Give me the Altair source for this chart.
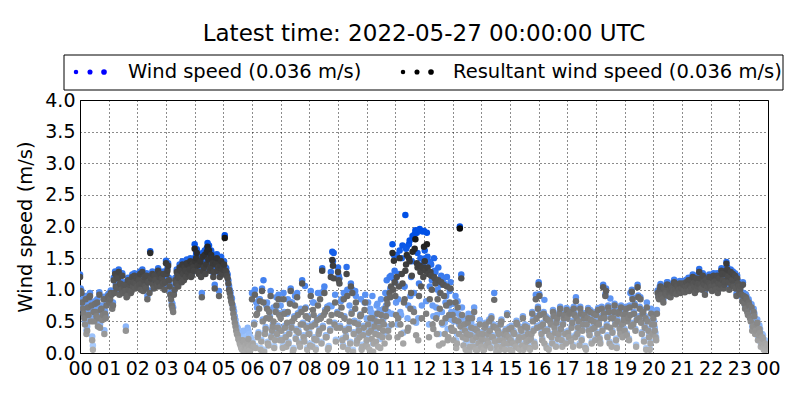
import altair as alt
import pandas as pd

# ---------------- data ----------------
# Two interleaved sample sets per hour (A at :00,:03,..., B at :01.5,:04.5,...), 20 values each.
hours = list(range(24))

resultant_a = [
    [1.20, 0.95, 0.70, 0.55, 0.85, 0.35, 0.60, 0.90, 0.75, 0.05, 0.50, 0.65, 0.80, 0.55, 0.40, 0.70, 0.60, 0.30, 0.55, 0.85],
    [0.90, 0.85, 0.92, 0.75, 0.95, 1.05, 1.20, 1.28, 1.10, 1.00, 0.95, 1.08, 0.35, 0.90, 1.00, 1.12, 0.98, 1.05, 1.22, 1.10],
    [1.05, 1.15, 1.25, 1.10, 0.98, 1.20, 1.02, 0.85, 1.12, 1.58, 1.18, 1.08, 1.22, 1.15, 1.05, 1.12, 1.25, 1.18, 1.10, 1.00],
    [1.42, 1.30, 1.15, 0.92, 0.75, 0.65, 1.00, 1.10, 1.22, 1.18, 1.30, 1.12, 1.25, 1.35, 1.20, 1.40, 1.28, 1.45, 1.22, 1.35],
    [1.65, 1.50, 1.38, 1.25, 1.45, 0.88, 1.30, 1.55, 1.40, 1.68, 1.62, 1.35, 1.50, 1.20, 1.02, 1.42, 1.30, 0.90, 1.38, 1.25],
    [1.35, 1.82, 1.28, 1.18, 1.00, 0.88, 0.78, 0.62, 0.48, 0.35, 0.28, 0.20, 0.12, 0.05, 0.18, 0.08, 0.02, 0.15, 0.10, 0.05],
    [0.85, 0.10, 0.92, 0.60, 0.25, 0.70, 0.05, 0.98, 0.80, 0.30, 0.55, 0.15, 0.65, 0.90, 0.35, 0.50, 0.20, 0.75, 0.40, 0.60],
    [0.55, 0.20, 0.85, 0.40, 0.10, 0.65, 0.30, 0.98, 0.50, 0.05, 0.75, 0.35, 0.60, 0.15, 0.45, 1.10, 0.25, 0.70, 0.40, 0.55],
    [0.30, 0.90, 0.10, 0.60, 0.45, 0.20, 0.75, 0.35, 0.55, 1.30, 0.60, 0.65, 0.25, 0.05, 0.50, 1.20, 1.47, 1.18, 0.80, 0.40],
    [1.28, 1.10, 0.60, 0.20, 0.85, 0.35, 1.25, 0.05, 0.50, 1.05, 0.95, 0.30, 0.70, 0.15, 0.45, 0.25, 0.60, 0.10, 0.40, 0.80],
    [0.20, 0.45, 0.05, 0.35, 0.55, 0.15, 0.30, 0.50, 0.10, 0.40, 0.60, 0.25, 0.45, 0.70, 0.85, 0.35, 0.95, 1.05, 1.58, 1.46],
    [0.90, 1.20, 0.55, 1.50, 0.30, 1.10, 0.80, 1.30, 1.55, 0.40, 1.45, 0.95, 1.60, 0.65, 1.80, 1.42, 0.20, 1.38, 1.05, 1.35],
    [1.68, 1.30, 1.72, 1.25, 0.85, 1.22, 0.45, 1.20, 1.10, 0.30, 1.15, 0.70, 1.12, 0.15, 0.90, 0.55, 1.05, 0.25, 0.80, 0.40],
    [0.60, 0.35, 0.80, 0.15, 0.50, 1.97, 1.18, 0.25, 0.45, 0.05, 0.30, 0.55, 0.10, 0.40, 0.20, 0.65, 0.05, 0.35, 0.15, 0.45],
    [0.10, 0.30, 0.05, 0.45, 0.20, 0.15, 0.35, 0.55, 0.25, 0.84, 0.40, 0.10, 0.30, 0.05, 0.50, 0.20, 0.15, 0.35, 0.60, 0.25],
    [0.05, 0.40, 0.15, 0.30, 0.10, 0.45, 0.20, 0.05, 0.35, 0.55, 0.25, 0.10, 0.40, 0.20, 0.05, 0.30, 0.50, 0.15, 0.85, 0.40],
    [1.08, 0.60, 0.30, 0.45, 0.15, 0.55, 0.35, 0.05, 0.50, 0.25, 0.65, 0.40, 0.10, 0.55, 0.30, 0.70, 0.20, 0.45, 0.60, 0.15],
    [0.55, 0.25, 0.65, 0.40, 0.10, 0.60, 0.82, 0.30, 0.50, 0.70, 0.20, 0.45, 0.60, 0.05, 0.55, 0.35, 0.65, 0.15, 0.50, 0.40],
    [0.60, 0.30, 0.45, 0.15, 0.70, 1.04, 0.55, 0.98, 0.25, 0.65, 0.40, 0.10, 0.55, 0.75, 0.20, 0.50, 0.65, 0.30, 0.45, 0.60],
    [0.35, 0.70, 0.50, 0.20, 0.60, 0.97, 0.45, 0.75, 0.10, 1.04, 0.55, 0.85, 0.30, 0.65, 0.40, 0.05, 0.50, 0.25, 0.15, 0.45],
    [0.55, 0.35, 0.20, 0.95, 0.85, 1.05, 0.90, 0.80, 1.00, 0.92, 1.08, 0.95, 0.88, 1.02, 0.98, 1.10, 0.93, 1.05, 1.00, 0.95],
    [1.02, 1.08, 0.96, 1.12, 1.05, 0.98, 1.15, 1.02, 1.10, 0.95, 1.18, 1.05, 1.28, 1.08, 1.00, 1.12, 0.92, 1.15, 1.05, 1.20],
    [1.10, 0.98, 1.22, 1.05, 1.15, 0.95, 1.18, 1.08, 1.25, 1.02, 1.12, 1.41, 1.20, 1.00, 1.28, 1.15, 1.05, 1.22, 0.90, 1.10],
    [0.95, 1.05, 0.82, 0.90, 0.70, 0.85, 0.60, 0.75, 0.50, 0.35, 0.65, 0.30, 0.45, 0.20, 0.38, 0.10, 0.25, 0.05, 0.15, 0.08],
]

wind_a = [
    [1.24, 0.99, 0.76, 0.60, 0.90, 0.42, 0.66, 0.95, 0.80, 0.12, 0.56, 0.70, 0.85, 0.60, 0.46, 0.75, 0.66, 0.36, 0.60, 0.90],
    [0.94, 0.90, 0.96, 0.80, 0.99, 1.09, 1.24, 1.32, 1.14, 1.04, 1.00, 1.12, 0.42, 0.95, 1.04, 1.16, 1.02, 1.09, 1.26, 1.14],
    [1.09, 1.19, 1.29, 1.14, 1.02, 1.24, 1.06, 0.90, 1.16, 1.61, 1.22, 1.12, 1.26, 1.19, 1.09, 1.16, 1.29, 1.22, 1.14, 1.04],
    [1.46, 1.34, 1.19, 0.96, 0.80, 0.72, 1.05, 1.14, 1.27, 1.22, 1.35, 1.16, 1.30, 1.40, 1.25, 1.46, 1.33, 1.50, 1.27, 1.40],
    [1.72, 1.58, 1.45, 1.32, 1.52, 0.95, 1.36, 1.62, 1.46, 1.74, 1.70, 1.42, 1.57, 1.27, 1.08, 1.50, 1.38, 0.98, 1.45, 1.32],
    [1.42, 1.86, 1.34, 1.24, 1.06, 0.95, 0.86, 0.72, 0.58, 0.45, 0.40, 0.32, 0.25, 0.20, 0.35, 0.25, 0.15, 0.40, 0.30, 0.25],
    [0.95, 0.13, 1.00, 0.80, 0.28, 0.85, 0.08, 1.02, 1.15, 0.33, 0.75, 0.18, 0.68, 0.98, 0.38, 0.72, 0.23, 0.88, 0.43, 0.63],
    [0.75, 0.23, 0.95, 0.43, 0.13, 0.85, 0.33, 1.02, 0.80, 0.08, 0.90, 0.38, 0.63, 0.18, 0.70, 1.15, 0.28, 1.06, 0.43, 0.58],
    [0.33, 0.98, 0.13, 0.80, 0.48, 0.23, 0.95, 0.38, 0.58, 1.34, 0.98, 0.68, 0.28, 0.08, 0.75, 1.28, 1.60, 1.58, 0.92, 0.43],
    [1.35, 1.18, 0.82, 0.23, 0.95, 0.38, 1.36, 0.08, 0.75, 1.10, 1.00, 0.33, 0.98, 0.18, 0.48, 0.28, 0.85, 0.13, 0.43, 0.92],
    [0.55, 0.80, 0.35, 0.65, 0.90, 0.45, 0.62, 0.75, 0.40, 0.68, 0.85, 0.60, 0.70, 0.95, 1.15, 0.65, 1.20, 1.22, 1.72, 1.55],
    [1.12, 1.55, 0.85, 1.62, 0.60, 1.70, 1.05, 2.18, 1.68, 0.75, 1.78, 1.20, 1.85, 0.95, 1.94, 1.90, 0.55, 1.96, 1.35, 1.92],
    [1.93, 1.50, 1.90, 1.45, 1.05, 1.40, 0.75, 1.50, 1.28, 0.60, 1.35, 0.95, 1.22, 0.45, 1.10, 0.80, 1.20, 0.55, 0.98, 0.65],
    [0.78, 0.50, 0.90, 0.30, 0.62, 2.00, 1.24, 0.36, 0.55, 0.15, 0.40, 0.62, 0.20, 0.48, 0.28, 0.72, 0.12, 0.42, 0.22, 0.52],
    [0.13, 0.33, 0.08, 0.48, 0.23, 0.18, 0.38, 0.58, 0.28, 0.95, 0.43, 0.13, 0.33, 0.08, 0.53, 0.23, 0.18, 0.38, 0.63, 0.28],
    [0.08, 0.43, 0.18, 0.33, 0.13, 0.48, 0.23, 0.08, 0.38, 0.58, 0.28, 0.13, 0.43, 0.23, 0.08, 0.33, 0.53, 0.18, 0.92, 0.43],
    [1.12, 0.63, 0.33, 0.48, 0.84, 0.58, 0.38, 0.08, 0.53, 0.28, 0.68, 0.43, 0.13, 0.58, 0.33, 0.73, 0.23, 0.48, 0.63, 0.18],
    [0.58, 0.28, 0.68, 0.43, 0.13, 0.63, 0.88, 0.33, 0.53, 0.73, 0.23, 0.48, 0.63, 0.08, 0.58, 0.38, 0.68, 0.18, 0.53, 0.43],
    [0.63, 0.33, 0.48, 0.18, 0.73, 1.08, 0.58, 1.02, 0.28, 0.68, 0.86, 0.13, 0.58, 0.78, 0.23, 0.53, 0.68, 0.33, 0.48, 0.63],
    [0.38, 0.73, 0.53, 0.23, 0.95, 1.00, 0.48, 0.78, 0.13, 1.08, 0.58, 0.88, 0.33, 0.68, 0.43, 0.08, 0.53, 0.28, 0.18, 0.48],
    [0.62, 0.40, 0.25, 0.99, 0.90, 1.09, 0.94, 0.85, 1.04, 0.96, 1.12, 0.99, 0.92, 1.06, 1.02, 1.14, 0.97, 1.09, 1.04, 0.99],
    [1.06, 1.12, 1.00, 1.16, 1.09, 1.02, 1.19, 1.06, 1.14, 0.99, 1.22, 1.09, 1.33, 1.12, 1.04, 1.16, 0.96, 1.19, 1.09, 1.24],
    [1.14, 1.02, 1.26, 1.09, 1.19, 0.99, 1.22, 1.12, 1.29, 1.06, 1.16, 1.44, 1.24, 1.04, 1.32, 1.19, 1.09, 1.26, 0.94, 1.14],
    [0.99, 1.09, 0.88, 0.95, 0.76, 0.90, 0.66, 0.80, 0.56, 0.42, 0.70, 0.36, 0.50, 0.26, 0.44, 0.16, 0.30, 0.10, 0.20, 0.14],
]

resultant_b = [
    [0.98, 0.80, 0.62, 0.45, 0.30, 0.72, 0.88, 0.50, 0.20, 0.65, 0.78, 0.58, 0.42, 0.92, 0.68, 0.52, 0.85, 0.62, 0.75, 0.88],
    [0.80, 0.95, 0.70, 1.15, 1.25, 1.02, 1.18, 0.92, 1.08, 1.22, 1.05, 0.98, 0.88, 1.15, 1.08, 0.95, 1.20, 1.12, 1.02, 1.18],
    [1.20, 1.08, 1.00, 1.28, 1.15, 1.05, 1.22, 1.12, 0.95, 1.18, 1.25, 1.02, 1.15, 1.08, 1.30, 1.20, 1.05, 1.15, 1.25, 1.12],
    [1.25, 1.38, 1.05, 0.85, 0.70, 0.92, 1.15, 1.28, 1.05, 1.35, 1.18, 1.40, 1.15, 1.30, 1.42, 1.25, 1.32, 1.20, 1.40, 1.30],
    [1.45, 1.58, 1.28, 1.40, 1.20, 1.52, 1.35, 1.25, 1.60, 1.48, 1.30, 1.55, 1.42, 1.28, 1.40, 1.50, 1.35, 1.20, 1.45, 1.32],
    [1.40, 1.30, 1.22, 1.10, 0.95, 0.82, 0.70, 0.55, 0.42, 0.30, 0.22, 0.15, 0.08, 0.20, 0.03, 0.12, 0.06, 0.22, 0.04, 0.12],
    [0.15, 0.45, 0.08, 0.62, 0.30, 0.82, 0.18, 0.50, 0.02, 0.38, 0.70, 0.12, 0.55, 0.25, 0.42, 0.08, 0.65, 0.30, 0.85, 0.20],
    [0.35, 0.08, 0.62, 0.25, 0.48, 0.15, 0.78, 0.40, 0.02, 0.55, 0.22, 0.88, 0.32, 0.10, 0.65, 0.45, 0.18, 0.58, 0.05, 0.30],
    [0.12, 0.42, 0.68, 0.22, 0.05, 0.52, 0.30, 0.85, 0.15, 0.40, 0.95, 0.25, 0.70, 0.08, 0.35, 0.60, 1.38, 0.45, 0.18, 0.62],
    [1.15, 0.40, 0.72, 0.10, 0.55, 0.25, 0.90, 0.38, 0.15, 0.62, 0.02, 0.48, 0.80, 0.20, 0.35, 0.58, 0.05, 0.28, 0.68, 0.12],
    [0.10, 0.32, 0.55, 0.22, 0.02, 0.42, 0.18, 0.62, 0.28, 0.08, 0.50, 0.35, 0.15, 0.58, 0.78, 0.25, 0.88, 0.45, 1.00, 1.12],
    [0.60, 0.25, 1.05, 0.45, 1.25, 0.15, 0.85, 1.40, 0.35, 1.50, 0.70, 1.22, 0.50, 1.65, 0.28, 1.35, 0.90, 1.28, 0.55, 1.20],
    [1.45, 0.62, 1.35, 0.25, 1.28, 1.00, 0.38, 1.18, 0.55, 0.85, 0.12, 0.95, 0.48, 1.08, 0.30, 0.75, 0.20, 0.60, 1.02, 0.35],
    [0.20, 0.52, 0.08, 0.72, 0.30, 0.42, 0.60, 0.12, 0.35, 0.22, 0.48, 0.02, 0.28, 0.55, 0.10, 0.38, 0.25, 0.05, 0.30, 0.18],
    [0.22, 0.05, 0.40, 0.12, 0.30, 0.50, 0.08, 0.25, 0.42, 0.18, 0.02, 0.35, 0.20, 0.45, 0.10, 0.30, 0.05, 0.28, 0.15, 0.38],
    [0.20, 0.02, 0.32, 0.15, 0.48, 0.08, 0.25, 0.38, 0.12, 0.05, 0.42, 0.18, 0.30, 0.08, 0.22, 0.62, 0.35, 0.10, 0.55, 0.70],
    [0.90, 0.42, 0.20, 0.62, 0.35, 0.08, 0.52, 0.28, 0.45, 0.15, 0.58, 0.32, 0.48, 0.22, 0.62, 0.38, 0.10, 0.55, 0.30, 0.68],
    [0.32, 0.62, 0.18, 0.48, 0.70, 0.25, 0.55, 0.40, 0.12, 0.62, 0.35, 0.55, 0.08, 0.45, 0.68, 0.28, 0.52, 0.38, 0.62, 0.20],
    [0.48, 0.68, 0.22, 0.55, 0.35, 0.62, 0.90, 0.42, 0.72, 0.15, 0.55, 0.32, 0.65, 0.45, 0.08, 0.62, 0.38, 0.72, 0.25, 0.52],
    [0.62, 0.28, 0.55, 0.72, 0.42, 0.85, 0.62, 0.35, 0.52, 0.88, 0.70, 0.48, 0.62, 0.18, 0.55, 0.72, 0.35, 0.05, 0.62, 0.30],
    [0.45, 0.25, 0.62, 0.88, 1.00, 0.92, 0.85, 1.02, 0.95, 1.08, 0.90, 1.00, 1.05, 0.95, 1.12, 1.00, 1.08, 0.98, 1.10, 1.02],
    [1.10, 0.98, 1.05, 1.00, 1.15, 1.08, 1.02, 1.20, 1.05, 1.12, 1.00, 1.10, 1.18, 1.02, 1.22, 1.08, 1.15, 1.02, 1.12, 1.08],
    [1.05, 1.18, 1.12, 1.00, 1.22, 1.10, 1.02, 1.30, 1.15, 1.08, 1.25, 1.32, 1.12, 1.20, 1.08, 1.25, 1.15, 1.02, 1.18, 1.05],
    [1.00, 0.92, 1.08, 0.78, 0.88, 0.65, 0.80, 0.55, 0.72, 0.42, 0.58, 0.35, 0.48, 0.28, 0.32, 0.15, 0.22, 0.10, 0.05, 0.12],
]

wind_b = [
    [1.02, 0.85, 0.68, 0.50, 0.36, 0.77, 0.92, 0.55, 0.26, 0.70, 0.82, 0.63, 0.48, 0.96, 0.73, 0.57, 0.89, 0.67, 0.80, 0.92],
    [0.85, 0.99, 0.76, 1.19, 1.29, 1.06, 1.22, 0.96, 1.12, 1.26, 1.09, 1.02, 0.93, 1.19, 1.12, 0.99, 1.24, 1.16, 1.06, 1.22],
    [1.24, 1.12, 1.04, 1.32, 1.19, 1.09, 1.26, 1.16, 0.99, 1.22, 1.29, 1.06, 1.19, 1.12, 1.34, 1.24, 1.09, 1.19, 1.29, 1.16],
    [1.29, 1.42, 1.09, 0.90, 0.78, 0.96, 1.19, 1.32, 1.09, 1.40, 1.22, 1.45, 1.19, 1.35, 1.48, 1.30, 1.37, 1.25, 1.46, 1.35],
    [1.52, 1.64, 1.33, 1.46, 1.25, 1.58, 1.40, 1.30, 1.66, 1.54, 1.35, 1.62, 1.48, 1.33, 1.46, 1.56, 1.40, 1.25, 1.52, 1.37],
    [1.45, 1.35, 1.27, 1.15, 1.00, 0.88, 0.76, 0.66, 0.52, 0.40, 0.32, 0.25, 0.18, 0.32, 0.12, 0.22, 0.15, 0.35, 0.12, 0.22],
    [0.18, 0.48, 0.11, 0.72, 0.33, 0.85, 0.21, 0.53, 0.05, 0.41, 0.80, 0.15, 0.58, 0.28, 0.45, 0.11, 0.68, 0.33, 0.92, 0.23],
    [0.38, 0.11, 0.65, 0.28, 0.62, 0.18, 0.81, 0.43, 0.05, 0.58, 0.25, 0.95, 0.35, 0.13, 0.68, 0.48, 0.21, 0.72, 0.08, 0.33],
    [0.15, 0.45, 0.80, 0.25, 0.08, 0.55, 0.33, 0.95, 0.18, 0.43, 1.05, 0.28, 0.73, 0.11, 0.38, 0.74, 1.45, 0.48, 0.21, 0.65],
    [1.22, 0.43, 0.85, 0.13, 0.58, 0.28, 1.00, 0.41, 0.18, 0.65, 0.05, 0.51, 0.90, 0.23, 0.38, 0.61, 0.08, 0.31, 0.80, 0.15],
    [0.25, 0.48, 0.70, 0.38, 0.15, 0.58, 0.32, 0.78, 0.45, 0.22, 0.68, 0.52, 0.30, 0.75, 0.92, 0.42, 1.02, 0.62, 1.18, 1.30],
    [0.80, 0.45, 1.25, 0.65, 1.50, 0.32, 1.05, 1.65, 0.55, 1.72, 0.90, 1.45, 0.70, 1.88, 0.48, 1.58, 1.10, 1.50, 0.75, 1.42],
    [1.62, 0.82, 1.52, 0.45, 1.42, 1.15, 0.58, 1.30, 0.72, 1.00, 0.30, 1.08, 0.65, 1.18, 0.48, 0.90, 0.38, 0.75, 1.12, 0.52],
    [0.35, 0.65, 0.20, 0.82, 0.45, 0.55, 0.72, 0.25, 0.48, 0.35, 0.51, 0.05, 0.31, 0.58, 0.13, 0.41, 0.28, 0.08, 0.33, 0.21],
    [0.25, 0.08, 0.43, 0.15, 0.33, 0.53, 0.11, 0.28, 0.45, 0.21, 0.05, 0.38, 0.23, 0.48, 0.13, 0.33, 0.08, 0.31, 0.18, 0.41],
    [0.23, 0.05, 0.35, 0.18, 0.51, 0.11, 0.28, 0.41, 0.15, 0.08, 0.45, 0.21, 0.33, 0.11, 0.25, 0.65, 0.38, 0.13, 0.58, 0.73],
    [0.93, 0.45, 0.23, 0.65, 0.38, 0.11, 0.55, 0.31, 0.48, 0.18, 0.61, 0.35, 0.51, 0.25, 0.65, 0.41, 0.13, 0.58, 0.33, 0.71],
    [0.35, 0.65, 0.21, 0.51, 0.73, 0.28, 0.58, 0.43, 0.15, 0.65, 0.38, 0.58, 0.11, 0.48, 0.71, 0.31, 0.55, 0.41, 0.65, 0.23],
    [0.51, 0.71, 0.25, 0.58, 0.38, 0.65, 0.93, 0.45, 0.75, 0.18, 0.58, 0.35, 0.68, 0.48, 0.11, 0.65, 0.41, 0.75, 0.28, 0.55],
    [0.65, 0.31, 0.58, 0.75, 0.45, 0.88, 0.65, 0.38, 0.55, 0.91, 0.73, 0.51, 0.65, 0.21, 0.58, 0.80, 0.38, 0.08, 0.70, 0.33],
    [0.50, 0.32, 0.68, 0.92, 1.05, 0.96, 0.90, 1.06, 0.99, 1.12, 0.94, 1.04, 1.09, 0.99, 1.16, 1.04, 1.12, 1.02, 1.14, 1.06],
    [1.14, 1.02, 1.09, 1.04, 1.19, 1.12, 1.06, 1.24, 1.09, 1.16, 1.04, 1.14, 1.22, 1.06, 1.26, 1.12, 1.19, 1.06, 1.16, 1.12],
    [1.09, 1.22, 1.16, 1.04, 1.26, 1.14, 1.06, 1.34, 1.19, 1.12, 1.29, 1.36, 1.16, 1.24, 1.12, 1.29, 1.19, 1.06, 1.22, 1.09],
    [1.04, 0.96, 1.12, 0.83, 0.93, 0.70, 0.85, 0.60, 0.77, 0.48, 0.63, 0.40, 0.53, 0.33, 0.38, 0.20, 0.28, 0.16, 0.10, 0.18],
]

y_ticks = [0.0, 0.5, 1.0, 1.5, 2.0, 2.5, 3.0, 3.5, 4.0]
x_ticks = list(range(25))
title_text = "Latest time: 2022-05-27 00:00:00 UTC"
wind_label = "Wind speed (0.036 m/s)"
res_label = "Resultant wind speed (0.036 m/s)"

rows = []
for h in hours:
    for offset, wl, rl in [(0.0, wind_a, resultant_a), (0.025, wind_b, resultant_b)]:
        w = wl[h]
        r = rl[h]
        assert len(w) == 20 and len(r) == 20, (h, offset)
        for j in range(20):
            rows.append({"t": h + j * 0.05 + offset, "ws": w[j], "rws": r[j]})
df = pd.DataFrame(rows).sort_values("t").reset_index(drop=True)

FONT = "DejaVu Sans"
W, H = 688, 253
PT = 42

x_enc = alt.X(
    "t:Q",
    scale=alt.Scale(domain=[0, 24], nice=False, zero=False),
    axis=alt.Axis(
        values=x_ticks,
        labelExpr="datum.value == 24 ? '00' : (datum.value < 10 ? '0' + datum.value : '' + datum.value)",
        labelOverlap=False,
        labelFlush=False,
        labelFontSize=19,
        labelPadding=6,
        title=None,
    ),
)
y_axis = alt.Axis(
    values=y_ticks, format=".1f", title="Wind speed (m/s)", labelOverlap=False, labelFlush=False, labelFontSize=19
)
y_scale = alt.Scale(domain=[0, 4], nice=False)

wind = alt.Chart(df).mark_circle(size=PT, opacity=1, clip=True).encode(
    x=x_enc,
    y=alt.Y("ws:Q", scale=y_scale, axis=y_axis),
    color=alt.Color(
        "ws:Q",
        scale=alt.Scale(domain=[0, 1.8], range=["#b4d4ff", "#0050e6"], clamp=True, interpolate="rgb"),
        legend=None,
    ),
)

resultant = alt.Chart(df).mark_circle(size=PT, opacity=1, clip=True).encode(
    x=x_enc,
    y=alt.Y("rws:Q", scale=y_scale, axis=y_axis),
    color=alt.Color(
        "rws:Q",
        scale=alt.Scale(domain=[0, 2.1], range=["#b2b2b2", "#000000"], clamp=True, interpolate="rgb"),
        legend=None,
    ),
)

one = pd.DataFrame({"k": [0]})

title = alt.Chart(one).mark_text(
    text=title_text, font=FONT, fontSize=23, align="center", baseline="middle", color="black"
).encode(x=alt.value(W / 2), y=alt.value(-66))

box = alt.Chart(one).mark_rect(fillOpacity=0, stroke="black", strokeWidth=1).encode(
    x=alt.value(-16), x2=alt.value(703), y=alt.value(-45), y2=alt.value(-10)
)

legend_layers = [box]
for xpos, sz in [(-4, 20), (10, 26), (24, 32)]:
    legend_layers.append(
        alt.Chart(one).mark_circle(color="#0000ff", opacity=1, size=sz).encode(x=alt.value(xpos), y=alt.value(-28))
    )
for xpos, sz in [(323, 20), (337, 26), (351, 32)]:
    legend_layers.append(
        alt.Chart(one).mark_circle(color="#000000", opacity=1, size=sz).encode(x=alt.value(xpos), y=alt.value(-28))
    )
legend_layers.append(
    alt.Chart(one).mark_text(text=wind_label, font=FONT, fontSize=19.5, align="left", baseline="middle", color="black")
    .encode(x=alt.value(48), y=alt.value(-28))
)
legend_layers.append(
    alt.Chart(one).mark_text(text=res_label, font=FONT, fontSize=19.5, align="left", baseline="middle", color="black")
    .encode(x=alt.value(373), y=alt.value(-28))
)

chart = (
    alt.layer(wind, resultant, title, *legend_layers)
    .resolve_scale(color="independent")
    .properties(
        width=W,
        height=H,
        autosize=alt.AutoSizeParams(type="none"),
        padding={"left": 72, "top": 92, "right": 24, "bottom": 39},
        background="white",
    )
    .configure_view(stroke="black", strokeWidth=1)
    .configure_axis(
        labelFont=FONT,
        labelFontSize=19.5,
        labelColor="black",
        titleFont=FONT,
        titleFontSize=19.5,
        titleFontWeight="normal",
        titleColor="black",
        grid=True,
        gridColor="black",
        gridDash=[1, 3],
        gridWidth=1,
        gridOpacity=0.9,
        domain=False,
        ticks=False,
        labelPadding=5,
    )
    .configure_axisY(titlePadding=9)
)

chart.save("out.html", embed_options={"renderer": "svg", "actions": False})
